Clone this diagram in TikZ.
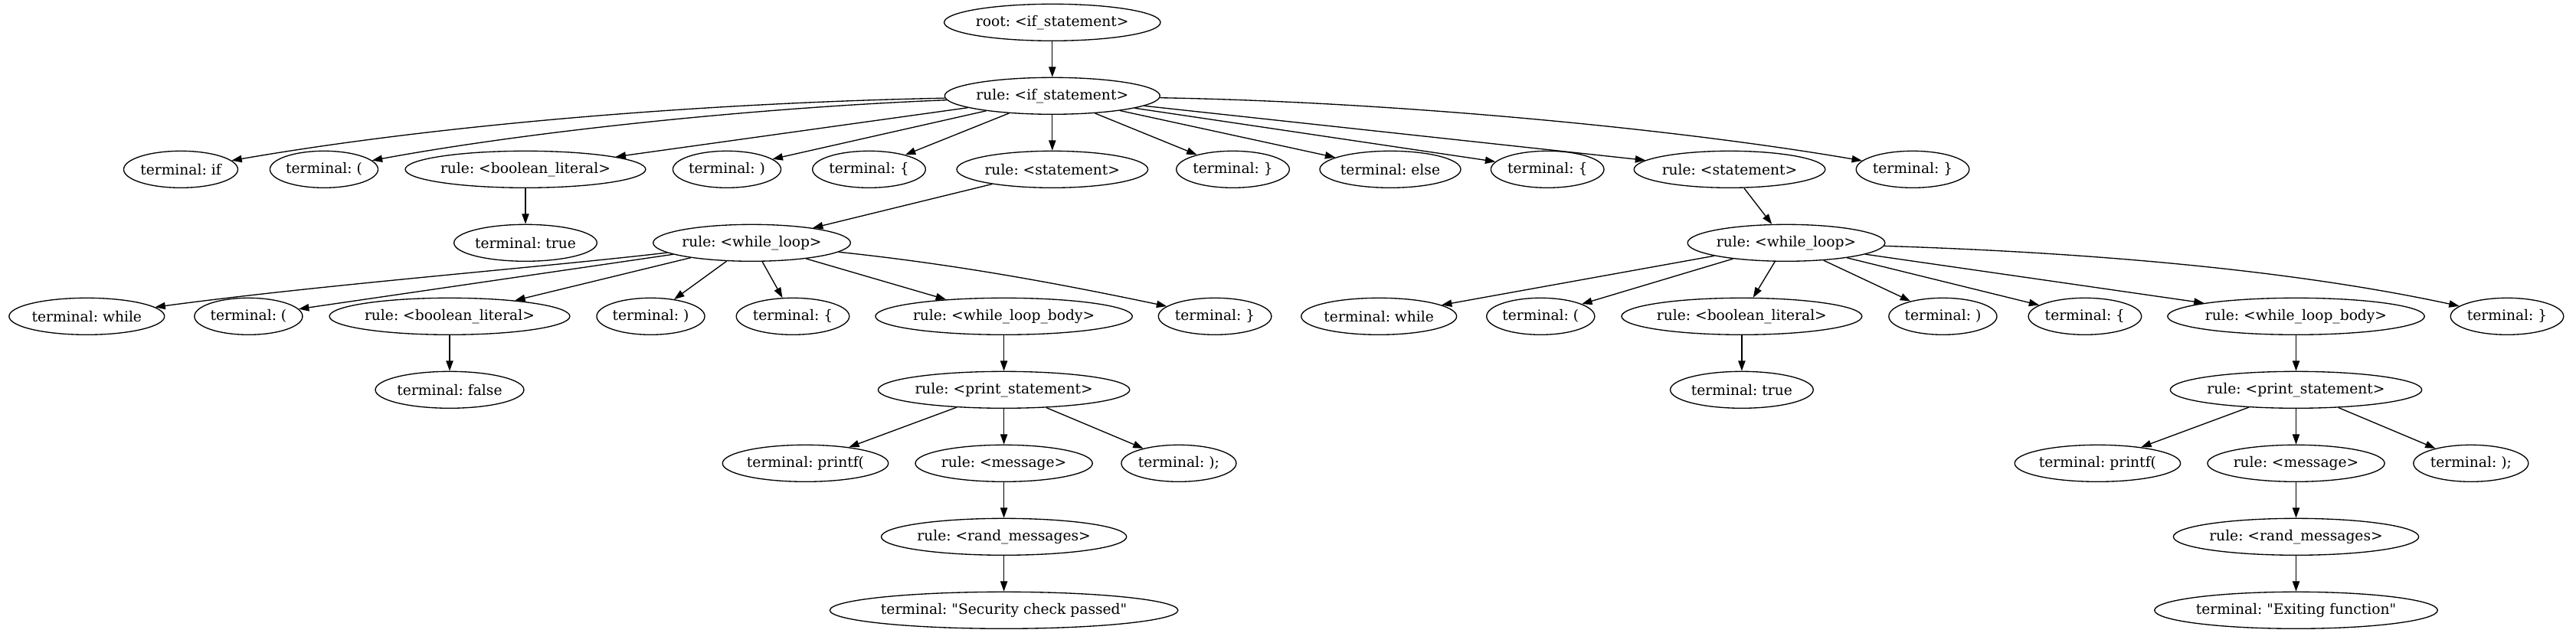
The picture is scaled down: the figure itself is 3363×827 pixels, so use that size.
\documentclass[tikz,border=0pt]{standalone}
\usepackage{fontspec}
\newfontfamily\gvfamily{DejaVu Serif}
\usetikzlibrary{shapes.geometric,arrows.meta}
\newcommand\gvfont{\gvfamily\fontsize{14pt}{16.8pt}\selectfont\frenchspacing}
\newlength\gvtw
\newcommand\gvn[4]{%
  \settowidth\gvtw{\gvfont #4}%
  \pgfmathsetlengthmacro\gvw{1.311*(\gvtw+16pt)+5pt}%
  \node[gvnode, minimum width=\gvw] (#1) at (#2,-#3) {#4};%
}
\tikzset{
  gvnode/.style={ellipse, draw, line width=1pt, minimum height=36pt, inner sep=0pt, font=\gvfont},
  gvedge/.style={line width=1pt, -{Triangle[length=10pt,width=7pt]}},
}
\begin{document}
\begin{tikzpicture}[x=0.75pt,y=0.75pt]
\useasboundingbox (0,0) rectangle (3363,-827);
% row 1-2
\gvn{root}{1373.8}{29.3}{root: <if\_statement>}
\gvn{ifs}{1373.8}{125.3}{rule: <if\_statement>}
% row 3
\gvn{tif}{236}{221.3}{terminal: if}
\gvn{tlp}{423}{221.3}{terminal: (}
\gvn{bla}{686}{221.3}{rule: <boolean\_literal>}
\gvn{trp}{949}{221.3}{terminal: )}
\gvn{tlb}{1134.5}{221.3}{terminal: \{}
\gvn{sta}{1373.8}{221.3}{rule: <statement>}
\gvn{trb}{1609.5}{221.3}{terminal: \}}
\gvn{tel}{1815}{221.3}{terminal: else}
\gvn{tlbb}{2020.2}{221.3}{terminal: \{}
\gvn{stb}{2258}{221.3}{rule: <statement>}
\gvn{trbb}{2497}{221.3}{terminal: \}}
% row 4
\gvn{tta}{686}{317.3}{terminal: true}
\gvn{wla}{981.5}{317.3}{rule: <while\_loop>}
\gvn{wlb}{2332}{317.3}{rule: <while\_loop>}
% row 5
\gvn{wha}{113.3}{413.3}{terminal: while}
\gvn{lpa}{324.4}{413.3}{terminal: (}
\gvn{blb}{587}{413.3}{rule: <boolean\_literal>}
\gvn{rpa}{849.5}{413.3}{terminal: )}
\gvn{lba}{1035}{413.3}{terminal: \{}
\gvn{wba}{1310.6}{413.3}{rule: <while\_loop\_body>}
\gvn{rba}{1586.1}{413.3}{terminal: \}}
\gvn{whb}{1800.2}{413.3}{terminal: while}
\gvn{lpb}{2011.3}{413.3}{terminal: (}
\gvn{blc}{2273.9}{413.3}{rule: <boolean\_literal>}
\gvn{rpb}{2536.4}{413.3}{terminal: )}
\gvn{lbb}{2721.9}{413.3}{terminal: \{}
\gvn{wbb}{2997.5}{413.3}{rule: <while\_loop\_body>}
\gvn{rbb}{3273}{413.3}{terminal: \}}
% row 6
\gvn{fls}{587}{509.3}{terminal: false}
\gvn{psa}{1310.6}{509.3}{rule: <print\_statement>}
\gvn{ttb}{2273.9}{509.3}{terminal: true}
\gvn{psb}{2997.5}{509.3}{rule: <print\_statement>}
% row 7
\gvn{pfa}{1051.5}{605.3}{terminal: printf(}
\gvn{msa}{1310.6}{605.3}{rule: <message>}
\gvn{sca}{1538.9}{605.3}{terminal: );}
\gvn{pfb}{2738.4}{605.3}{terminal: printf(}
\gvn{msb}{2997.5}{605.3}{rule: <message>}
\gvn{scb}{3225.8}{605.3}{terminal: );}
% row 8
\gvn{rma}{1310.6}{701.3}{rule: <rand\_messages>}
\gvn{rmb}{2997.5}{701.3}{rule: <rand\_messages>}
% row 9
\gvn{sec}{1310.6}{797.3}{terminal: "Security check passed"}
\gvn{ext}{2997.5}{797.3}{terminal: "Exiting function"}
% edges
\draw[gvedge] (root) -- (ifs);
\draw[gvedge] (ifs) .. controls (900,-135) and (560,-165) .. (tif);
\draw[gvedge] (ifs) .. controls (1000,-140) and (700,-170) .. (tlp);
\draw[gvedge] (ifs) -- (bla);
\draw[gvedge] (ifs) -- (trp);
\draw[gvedge] (ifs) -- (tlb);
\draw[gvedge] (ifs) -- (sta);
\draw[gvedge] (ifs) -- (trb);
\draw[gvedge] (ifs) -- (tel);
\draw[gvedge] (ifs) -- (tlbb);
\draw[gvedge] (ifs) -- (stb);
\draw[gvedge] (ifs) .. controls (1818,-133) and (2187,-168) .. (trbb);
\draw[gvedge] (bla) -- (tta);
\draw[gvedge] (sta) -- (wla);
\draw[gvedge] (stb) -- (wlb);
\draw[gvedge] (wla) .. controls (700,-350) and (420,-372) .. (wha);
\draw[gvedge] (wla) -- (lpa);
\draw[gvedge] (wla) -- (blb);
\draw[gvedge] (wla) -- (rpa);
\draw[gvedge] (wla) -- (lba);
\draw[gvedge] (wla) -- (wba);
\draw[gvedge] (wla) .. controls (1244,-345) and (1375,-369) .. (rba);
\draw[gvedge] (wlb) -- (whb);
\draw[gvedge] (wlb) -- (lpb);
\draw[gvedge] (wlb) -- (blc);
\draw[gvedge] (wlb) -- (rpb);
\draw[gvedge] (wlb) -- (lbb);
\draw[gvedge] (wlb) -- (wbb);
\draw[gvedge] (wlb) .. controls (2763,-331) and (3012,-357) .. (rbb);
\draw[gvedge] (blb) -- (fls);
\draw[gvedge] (wba) -- (psa);
\draw[gvedge] (blc) -- (ttb);
\draw[gvedge] (wbb) -- (psb);
\draw[gvedge] (psa) -- (pfa);
\draw[gvedge] (psa) -- (msa);
\draw[gvedge] (psa) -- (sca);
\draw[gvedge] (psb) -- (pfb);
\draw[gvedge] (psb) -- (msb);
\draw[gvedge] (psb) -- (scb);
\draw[gvedge] (msa) -- (rma);
\draw[gvedge] (msb) -- (rmb);
\draw[gvedge] (rma) -- (sec);
\draw[gvedge] (rmb) -- (ext);
\end{tikzpicture}
\end{document}
